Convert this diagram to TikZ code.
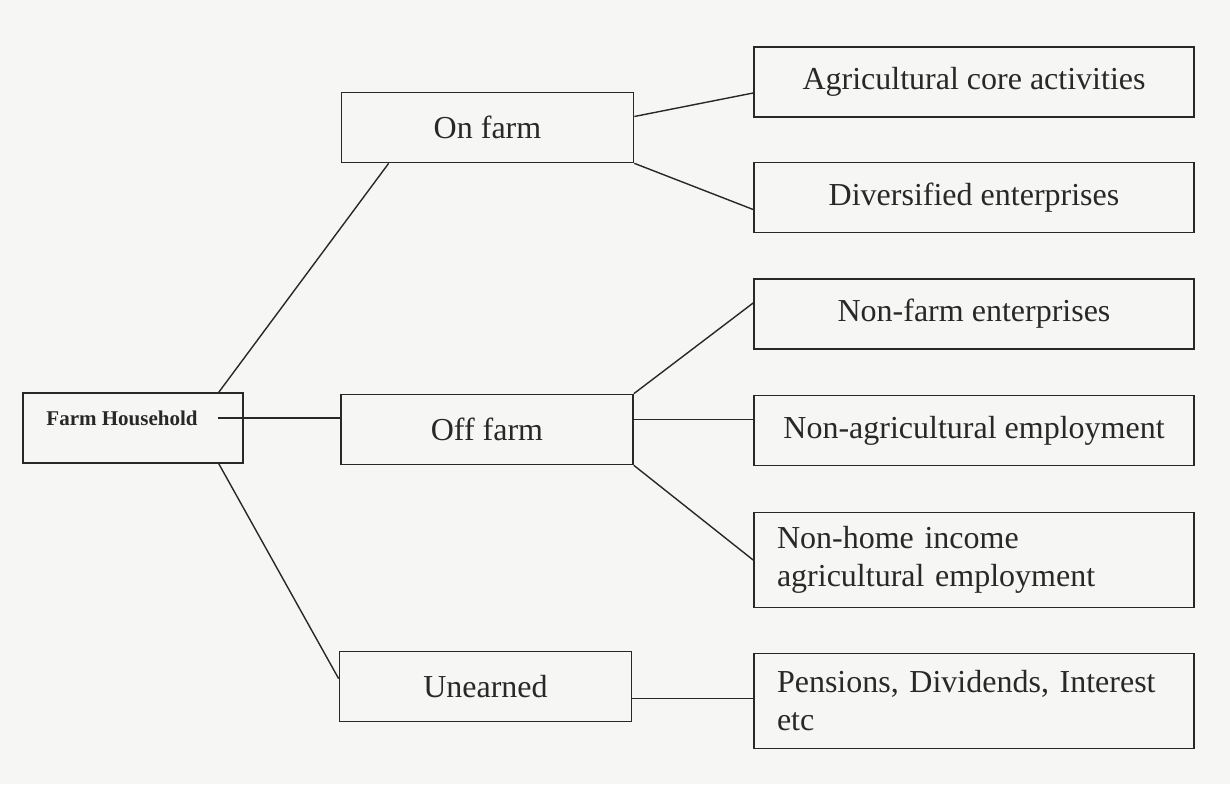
\documentclass[tikz,border=0pt]{standalone}
\usepackage{fontspec}
\setmainfont{Liberation Serif}
\usetikzlibrary{calc}

\definecolor{paper}{RGB}{246,246,244}
\definecolor{ink}{RGB}{40,40,40}

\begin{document}
\begin{tikzpicture}[x=1pt,y=1pt,yscale=-1,xscale=1,
  box/.style={draw=ink, line width=1.7pt, fill=paper, text=ink, minimum height=70pt, inner sep=0pt, font=\fontsize{32}{38}\selectfont},
  midbox/.style={box, minimum width=292pt},
  rbox/.style={box, minimum width=440pt},
  tallbox/.style={rbox, minimum height=95pt, text width=394pt, align=left},
  conn/.style={draw=ink, line width=1.4pt}]

% page
\fill[paper] (0,0) rectangle (1230,784);

% left: household
\node[box, minimum width=220pt] (hh) at (133,428) {};
\node[text=ink, font=\bfseries\fontsize{21}{25}\selectfont] (hhtext) at (122,418) {Farm Household};
\coordinate (hhout) at (218,418);

% middle column
\node[midbox] (on) at (487.5,127.5) {On farm};
\node[midbox] (off) at (487,429.5) {Off farm};
\node[midbox] (un) at (485.5,686.5) {Unearned};

% right column
\node[rbox] (agri) at (974,82) {Agricultural core activities};
\node[rbox] (div) at (974,197.5) {Diversified enterprises};
\node[rbox] (nonfarm) at (974,314) {Non-farm enterprises};
\node[rbox] (nonagri) at (974,430.5) {Non-agricultural employment};
\node[tallbox] (nonhome) at (974,560) {Non-home income\\agricultural employment};
\node[tallbox] (pen) at (974,701) {Pensions, Dividends, Interest\\etc};

% household to the three sources
\draw[conn] ($(hh.north east)+(-25,0)$) -- ($(on.south west)+(48,0)$);
\draw[conn] (hhout) -- (hhout -| off.west);
\draw[conn] ($(hh.south east)+(-25,0)$) -- ($(un.north west)+(0,28)$);

% on farm
\draw[conn] ($(on.east)+(0,-11)$) -- ($(agri.west)+(0,11)$);
\draw[conn] (on.south east) -- ($(div.west)+(0,12)$);

% off farm
\draw[conn] (off.north east) -- ($(nonfarm.west)+(0,-11)$);
\draw[conn] ($(off.east)+(0,-10)$) -- ($(nonagri.west)+(0,-11)$);
\draw[conn] (off.south east) -- (nonhome.west);

% unearned
\draw[conn] ($(un.east)+(0,12)$) -- ($(pen.west)+(0,-2.5)$);

\end{tikzpicture}
\end{document}
